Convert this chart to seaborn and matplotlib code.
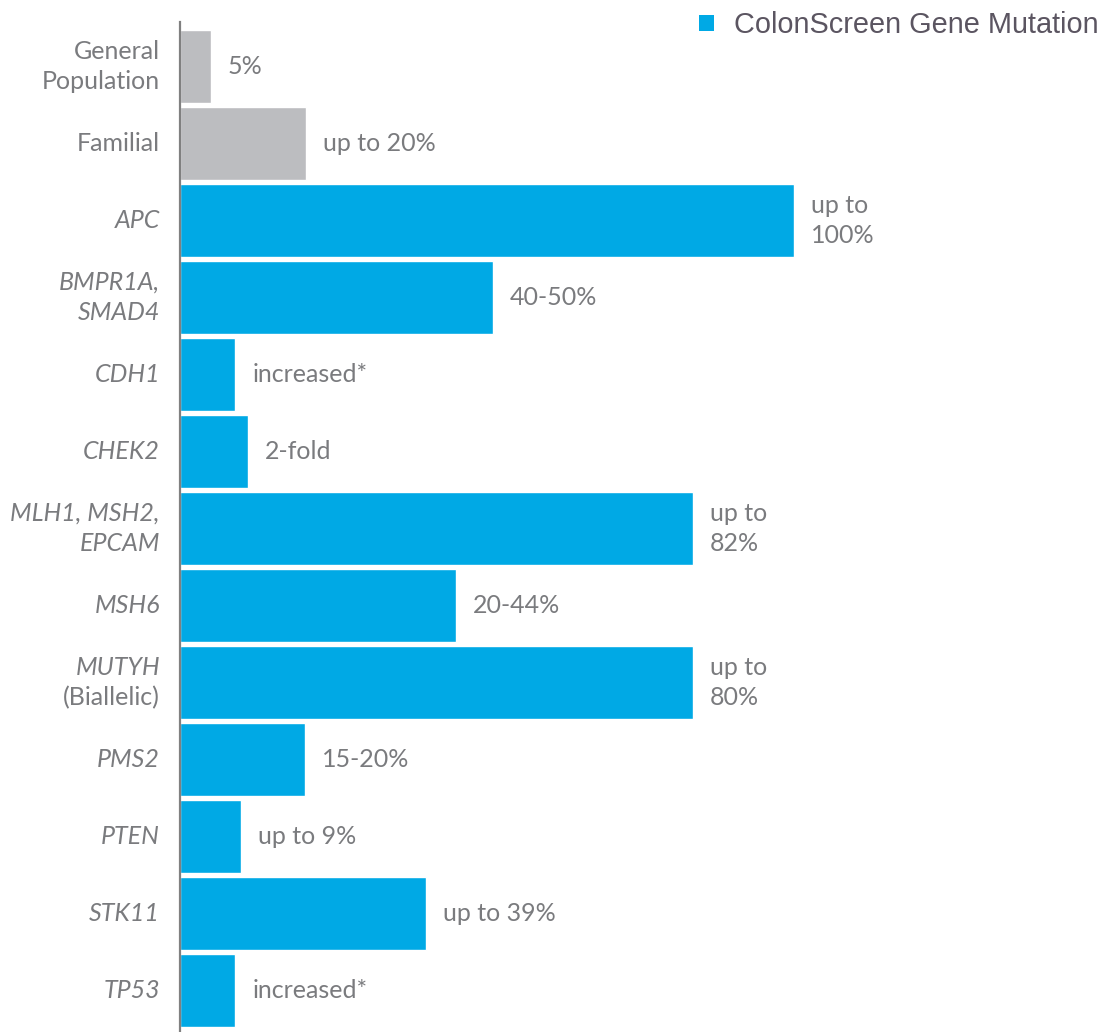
import numpy as np
import pandas as pd
import matplotlib
matplotlib.use("Agg")
import matplotlib.pyplot as plt
import seaborn as sns
from matplotlib.patches import Patch
from matplotlib.transforms import blended_transform_factory

# data (bar length in %)
categories = ["General\nPopulation", "Familial", "APC", "BMPR1A,\nSMAD4", "CDH1", "CHEK2",
              "MLH1, MSH2,\nEPCAM", "MSH6", "MUTYH\n(Biallelic)", "PMS2", "PTEN", "STK11", "TP53"]
values = [5, 20.5, 100, 51, 9, 11, 83.5, 45, 83.5, 20.3, 10, 40, 9]
value_labels = ["5%", "up to 20%", "up to\n100%", "40-50%", "increased*", "2-fold",
                "up to\n82%", "20-44%", "up to\n80%", "15-20%", "up to 9%", "up to 39%", "increased*"]
groups = ["Reference", "Reference"] + ["ColonScreen Gene Mutation"] * 11
italic = [False, False, True, True, True, True, True, True, True, True, True, True, True]

df = pd.DataFrame({"category": categories, "value": values, "group": groups})

blue = "#00a9e5"
grey = "#bcbdc0"
text_grey = "#7a7b7e"

sns.set_style("white")
plt.rcParams["font.family"] = ["Lato", "DejaVu Sans"]

fig = plt.figure(figsize=(11.17, 10.32), dpi=100)
ax = fig.add_axes([180 / 1117, 0, 937 / 1117, 1 - 22 / 1032])

sns.barplot(data=df, y="category", x="value", hue="group", orient="h",
            palette={"Reference": grey, "ColonScreen Gene Mutation": blue},
            dodge=False, width=0.95, saturation=1, legend=False, ax=ax)

ax.set_xlim(0, 937 / 6.14)
ax.set_ylim(12.54, -0.578)
ax.set_xlabel("")
ax.set_ylabel("")
ax.set_xticks([])
ax.set_yticks([])
for side in ["top", "right", "bottom"]:
    ax.spines[side].set_visible(False)
ax.spines["left"].set_color("#808080")
ax.spines["left"].set_linewidth(1.6)

fs = 18
trans = blended_transform_factory(fig.transFigure, ax.transData)
for i, cat in enumerate(categories):
    lines = cat.split("\n")
    if cat.startswith("MUTYH"):
        ax.text(160 / 1117, i - 0.2, lines[0], transform=trans, ha="right", va="center",
                fontsize=fs, color=text_grey, style="italic")
        ax.text(160 / 1117, i + 0.2, lines[1], transform=trans, ha="right", va="center",
                fontsize=fs, color=text_grey)
    else:
        ax.text(160 / 1117, i, cat, transform=trans, ha="right", va="center",
                fontsize=fs, color=text_grey, linespacing=1.4,
                style="italic" if italic[i] else "normal")

for i, (v, lab) in enumerate(zip(values, value_labels)):
    ax.text(v + 17 / 6.14, i, lab, ha="left", va="center", fontsize=fs,
            color=text_grey, linespacing=1.4)

handle = Patch(facecolor=blue, edgecolor="none")
fig.legend([handle], ["ColonScreen Gene Mutation"], loc="upper right",
           bbox_to_anchor=(0.999, 1.006), frameon=False, handlelength=0.5, handleheight=0.5,
           handletextpad=0.7, borderaxespad=0.2,
           prop={"family": "Liberation Sans", "size": 20.8}, labelcolor="#5b5561")

fig.savefig("out.png", dpi=100)
